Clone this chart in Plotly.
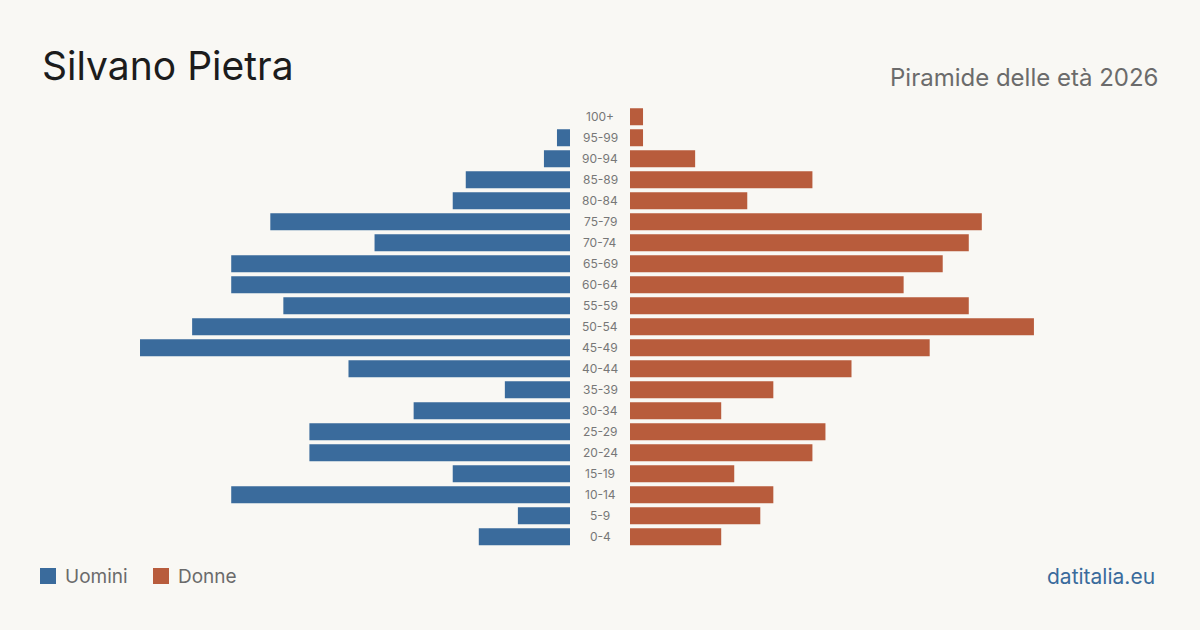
import plotly.graph_objects as go

age_groups = ["0-4", "5-9", "10-14", "15-19", "20-24", "25-29", "30-34", "35-39",
              "40-44", "45-49", "50-54", "55-59", "60-64", "65-69", "70-74",
              "75-79", "80-84", "85-89", "90-94", "95-99", "100+"]
men = [7, 4, 26, 9, 20, 20, 12, 5, 17, 33, 29, 22, 26, 26, 15, 23, 9, 8, 2, 1, 0]
women = [7, 10, 11, 8, 14, 15, 7, 11, 17, 23, 31, 26, 21, 24, 26, 27, 9, 14, 5, 1, 1]

BLUE = "#3a6b9c"
ORANGE = "#b85c3c"
BG = "#f9f8f4"
W, H = 1200, 630
FONT = "Inter, 'Noto Sans', sans-serif"

# pixel geometry helpers
left_zero, right_zero = 570, 630
px_per_unit = 13.03
left_px = 40
rng = (left_zero - left_px) / px_per_unit

top_px, bot_px = 106.3, 547.3

fig = go.Figure()
fig.add_trace(go.Bar(y=age_groups, x=men, orientation="h", marker_color=BLUE,
                     marker_line_width=0,
                     xaxis="x", yaxis="y", name="Uomini", showlegend=False))
fig.add_trace(go.Bar(y=age_groups, x=women, orientation="h", marker_color=ORANGE,
                     marker_line_width=0,
                     xaxis="x2", yaxis="y2", name="Donne", showlegend=False))

ydom = [(H - bot_px) / H, (H - top_px) / H]
fig.update_layout(
    width=W, height=H,
    margin=dict(l=0, r=0, t=0, b=0),
    paper_bgcolor=BG, plot_bgcolor=BG,
    bargap=0.19,
    xaxis=dict(domain=[left_px / W, left_zero / W], range=[rng, 0], visible=False),
    xaxis2=dict(domain=[right_zero / W, (right_zero + (left_zero - left_px)) / W],
                range=[0, rng], visible=False),
    yaxis=dict(domain=ydom, type="category", categoryorder="array",
               categoryarray=age_groups, range=[-0.5, 20.5], visible=False),
    yaxis2=dict(domain=ydom, type="category", categoryorder="array",
                categoryarray=age_groups, range=[-0.5, 20.5], visible=False,
                anchor="x2"),
    font=dict(family=FONT),
)

annotations = []
for ag in age_groups:
    annotations.append(dict(x=600 / W, xref="paper", y=ag, yref="y",
                            text=ag, showarrow=False, xanchor="center",
                            yanchor="middle",
                            font=dict(size=12, color="#777777", family=FONT)))

annotations += [
    dict(x=40 / W, y=(H - 66) / H, xref="paper", yref="paper", text="Silvano Pietra",
         showarrow=False, xanchor="left", yanchor="middle",
         font=dict(size=39, color="#1c1c1c", family=FONT)),
    dict(x=1160 / W, y=(H - 77) / H, xref="paper", yref="paper",
         text="Piramide delle età 2026", showarrow=False, xanchor="right",
         yanchor="middle", font=dict(size=24, color="#6b6b6b", family=FONT)),
    dict(x=63 / W, y=(H - 576) / H, xref="paper", yref="paper", text="Uomini",
         showarrow=False, xanchor="left", yanchor="middle",
         font=dict(size=19, color="#6b6b6b", family=FONT)),
    dict(x=176 / W, y=(H - 576) / H, xref="paper", yref="paper", text="Donne",
         showarrow=False, xanchor="left", yanchor="middle",
         font=dict(size=19, color="#6b6b6b", family=FONT)),
    dict(x=1157 / W, y=(H - 576) / H, xref="paper", yref="paper", text="datitalia.eu",
         showarrow=False, xanchor="right", yanchor="middle",
         font=dict(size=21, color=BLUE, family=FONT)),
]

shapes = [
    dict(type="rect", xref="paper", yref="paper", x0=40 / W, x1=56 / W,
         y0=(H - 584) / H, y1=(H - 568) / H, fillcolor=BLUE, line=dict(width=0)),
    dict(type="rect", xref="paper", yref="paper", x0=153 / W, x1=169 / W,
         y0=(H - 584) / H, y1=(H - 568) / H, fillcolor=ORANGE, line=dict(width=0)),
]

fig.update_layout(annotations=annotations, shapes=shapes)
fig.write_html("out.html")
